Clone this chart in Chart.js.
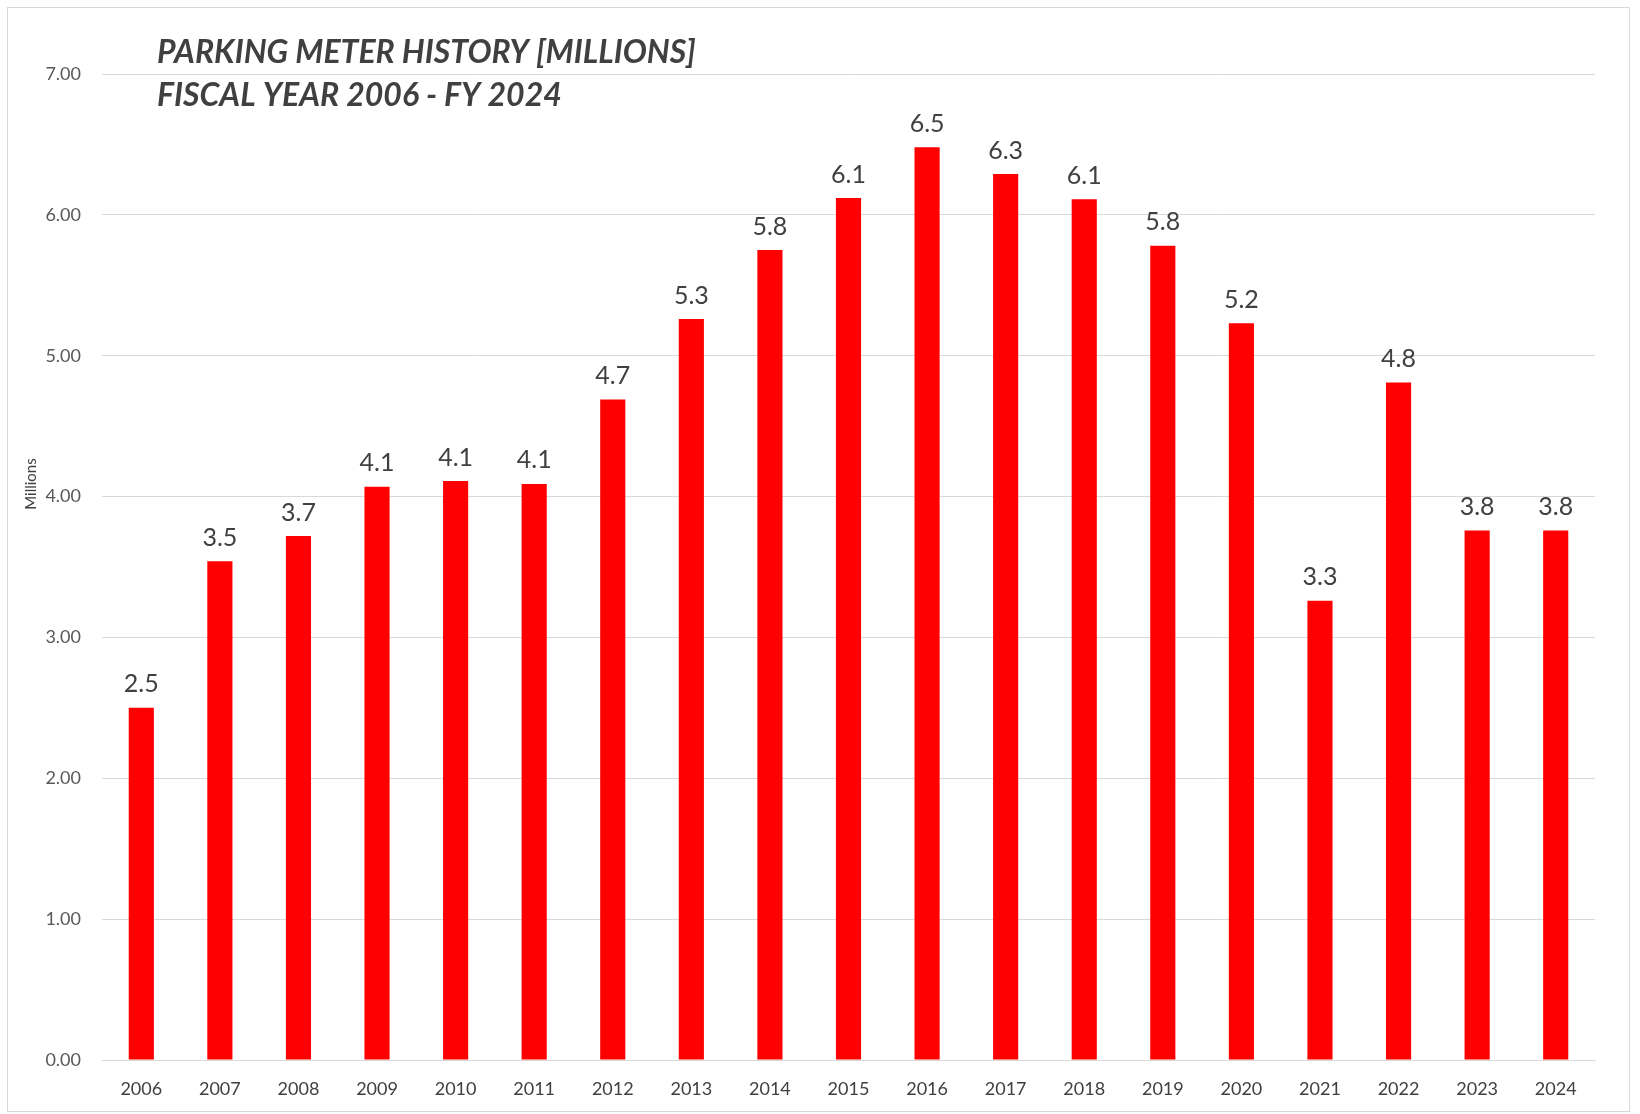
<!DOCTYPE html>
<html>
<head>
<meta charset="utf-8">
<script src="https://cdn.jsdelivr.net/npm/chart.js@4"></script>
<style>
  html, body { margin: 0; padding: 0; background: #fff; }
  #wrap { width: 1640px; height: 1114px; }
</style>
</head>
<body>
<div id="wrap"><canvas id="meters" width="1640" height="1114"></canvas></div>
<script>
// parking meter revenue, millions, by fiscal year
const years = [`2006`, `2007`, `2008`, `2009`, `2010`, `2011`, `2012`, `2013`, `2014`, `2015`,
    `2016`, `2017`, `2018`, `2019`, `2020`, `2021`, `2022`, `2023`, `2024`]
const revenue = [2.50, 3.54, 3.72, 4.07, 4.11, 4.09, 4.69, 5.26, 5.75, 6.12,
    6.48, 6.29, 6.11, 5.78, 5.23, 3.26, 4.81, 3.76, 3.76]
const yTicks = [0, 1, 2, 3, 4, 5, 6, 7]
const titleLines = [`PARKING METER HISTORY [MILLIONS]`, `FISCAL YEAR 2006 - FY 2024`]
const yTitle = `Millions`

const FONT = `Lato, "Open Sans", sans-serif`

// white page + thin frame, title and axis name drawn over the plot
const frame = {
    id: `frame`,
    beforeDraw: (chart) => {
        const ctx = chart.ctx
        ctx.save()
        ctx.fillStyle = `#fff`
        ctx.fillRect(0, 0, chart.width, chart.height)
        ctx.strokeStyle = `#d9d9d9`
        ctx.lineWidth = 1
        ctx.strokeRect(7.5, 7.5, 1622, 1104)
        ctx.restore()
    },
    afterDraw: (chart) => {
        const ctx = chart.ctx
        ctx.save()
        ctx.fillStyle = `#404040`
        ctx.font = `italic bold 32px ${FONT}`
        ctx.textBaseline = `middle`
        ctx.fillText(titleLines[0], 157, 53)
        ctx.fillText(titleLines[1], 157, 96)

        ctx.translate(31, 484)
        ctx.rotate(-Math.PI / 2)
        ctx.font = `15px ${FONT}`
        ctx.textAlign = `center`
        ctx.fillText(yTitle, 0, 0)
        ctx.restore()
    }
}

// value on top of each bar
const barLabels = {
    id: `barLabels`,
    afterDatasetsDraw: (chart) => {
        const ctx = chart.ctx
        const meta = chart.getDatasetMeta(0)
        ctx.save()
        ctx.fillStyle = `#404040`
        ctx.font = `25px ${FONT}`
        ctx.textAlign = `center`
        ctx.textBaseline = `bottom`
        meta.data.forEach((bar, i) => {
            ctx.fillText(revenue[i].toFixed(1), bar.x, bar.y - 11)
        })
        ctx.restore()
    }
}

const chart = new Chart(document.getElementById(`meters`).getContext(`2d`), {
    type: `bar`,
    data: {
        labels: years,
        datasets: [{
            data: revenue,
            backgroundColor: `#ff0000`,
            borderWidth: 0,
            barPercentage: 0.32,
            categoryPercentage: 1.0
        }]
    },
    options: {
        responsive: false,
        animation: false,
        layout: { padding: { left: 0, right: 45, top: 74, bottom: 0 } },
        plugins: {
            legend: { display: false },
            tooltip: { enabled: false }
        },
        scales: {
            x: {
                grid: { display: false },
                border: { color: `#d9d9d9` },
                ticks: { color: `#404040`, font: { family: FONT, size: 18 }, padding: 10 },
                afterFit: (scale) => { scale.height = 54 }
            },
            y: {
                min: 0,
                max: 7,
                afterBuildTicks: (scale) => { scale.ticks = yTicks.map(v => ({ value: v })) },
                grid: { color: `#d9d9d9`, drawTicks: false },
                border: { display: false },
                ticks: {
                    color: `#595959`,
                    font: { family: FONT, size: 18 },
                    padding: 21,
                    callback: (v) => Number(v).toFixed(2)
                },
                afterFit: (scale) => { scale.width = 102 }
            }
        }
    },
    plugins: [frame, barLabels]
})
</script>
</body>
</html>
